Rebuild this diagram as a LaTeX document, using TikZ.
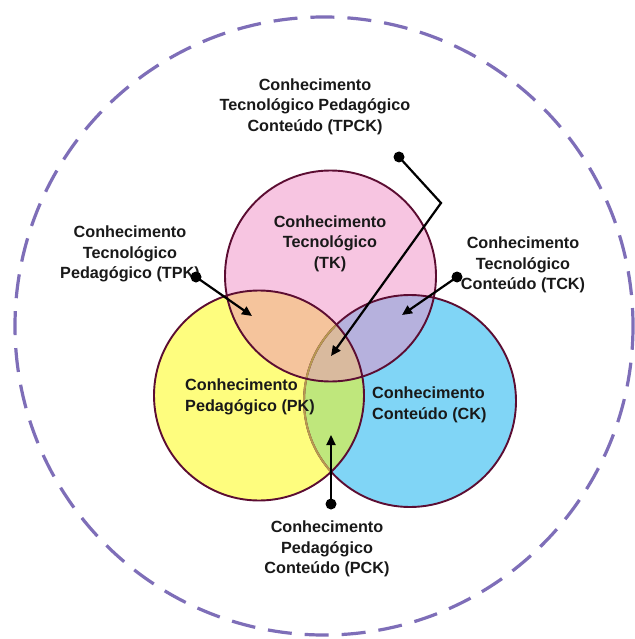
\documentclass[tikz,border=0pt]{standalone}
\usepackage{fontspec}
\setmainfont{Liberation Sans}
\usetikzlibrary{arrows.meta}
\definecolor{dashc}{HTML}{7E6EB8}
\definecolor{pinkc}{HTML}{F7C5E1}
\definecolor{yelc}{HTML}{FEFD7E}
\definecolor{bluec}{HTML}{80D5F6}
\definecolor{pyc}{HTML}{F5C49C}
\definecolor{pbc}{HTML}{B6B1DD}
\definecolor{ybc}{HTML}{BFE77C}
\definecolor{allc}{HTML}{D9BA9E}
\definecolor{edgec}{HTML}{5C0D32}
\definecolor{fadec}{HTML}{B89A50}
\begin{document}
\begin{tikzpicture}[x=1pt,y=-1pt,
  lbl/.style={font=\bfseries\fontsize{16.2}{20.5}\selectfont, align=center, inner sep=0pt, text=black!90},
  lbll/.style={lbl, align=left, anchor=west},
  conn/.style={line width=2.2pt, black, -{Triangle[length=10pt,width=9pt]}},
  ring/.style={draw=edgec, line width=1.9pt}]
\useasboundingbox (0,0) rectangle (634,639);
\fill[white] (0,0) rectangle (634,639);
% outer dashed circle
\draw[dashc, line width=3.2pt, dash pattern=on 24pt off 13pt, dash phase=6pt] (324,326) circle[radius=309pt];
% circle centres
\coordinate (ctk) at (330.5,276);
\coordinate (cpk) at (259,395.5);
\coordinate (cck) at (410,401);
% fills
\fill[pinkc] (ctk) circle[radius=105.5pt];
\fill[yelc] (cpk) circle[radius=105pt];
\fill[bluec] (cck) circle[radius=106pt];
\begin{scope}\clip (ctk) circle[radius=105.5pt]; \fill[pyc] (cpk) circle[radius=105pt]; \fill[pbc] (cck) circle[radius=106pt];\end{scope}
\begin{scope}\clip (cpk) circle[radius=105pt]; \fill[ybc] (cck) circle[radius=106pt];
  \clip (ctk) circle[radius=105.5pt]; \fill[allc] (cck) circle[radius=106pt];\end{scope}
% outlines
\draw[ring] (cck) circle[radius=106pt];
\begin{scope}\clip (cpk) circle[radius=104pt]; \draw[draw=fadec, line width=1.9pt] (cck) circle[radius=106pt];\end{scope}
\draw[ring] (cpk) circle[radius=105pt];
\draw[ring] (ctk) circle[radius=105.5pt];
% labels
\node[lbl] (tk) at (330,243.5) {Conhecimento\\Tecnológico\\(TK)};
\node[lbll] (pk) at (185,397) {Conhecimento\\Pedagógico (PK)};
\node[lbll] (ck) at (372,405) {Conhecimento\\Conteúdo (CK)};
\node[lbl] (tpck) at (315,106.5) {Conhecimento\\Tecnológico Pedagógico\\Conteúdo (TPCK)};
\node[lbl] (tpk) at (130,254) {Conhecimento\\Tecnológico\\Pedagógico (TPK)};
\node[lbl] (tck) at (523,265) {Conhecimento\\Tecnológico\\Conteúdo (TCK)};
\node[lbl] (pck) at (327,549) {Conhecimento\\Pedagógico\\Conteúdo (PCK)};
% connectors
\coordinate (tpckdot) at (399,157);
\coordinate (tpckbend) at (441,203);
\coordinate (tpcktip) at (331,356);
\coordinate (tpkdot) at (196,277);
\coordinate (tpktip) at (252,316);
\coordinate (tckdot) at (457,277);
\coordinate (tcktip) at (402,315);
\coordinate (pckdot) at (331,504);
\coordinate (pcktip) at (331,435);
\draw[conn] (tpckdot) -- (tpckbend) -- (tpcktip);
\draw[conn] (tpkdot) -- (tpktip);
\draw[conn] (tckdot) -- (tcktip);
\draw[conn] (pckdot) -- (pcktip);
\foreach \d in {tpckdot,tpkdot,tckdot,pckdot} \fill[black] (\d) circle[radius=5.5pt];
\end{tikzpicture}
\end{document}
